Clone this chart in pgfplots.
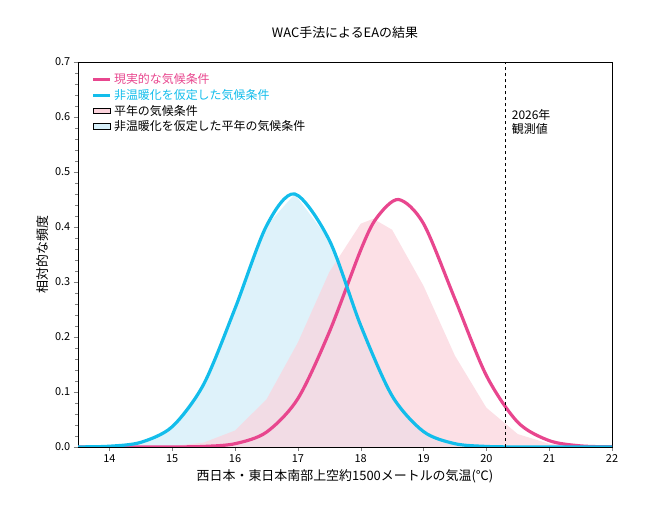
\documentclass[border=0pt]{standalone}
\usepackage{pgfplots}
\pgfplotsset{compat=1.18}
\usepackage{fontspec}
\setmainfont{Noto Sans CJK JP}
\definecolor{pk}{HTML}{E8468E}
\definecolor{bl}{HTML}{13BDEB}
\definecolor{pkf}{HTML}{FBD3DC}
\definecolor{blf}{HTML}{D6EFF9}
\begin{document}
\begin{tikzpicture}
\begin{axis}[
  scale only axis, width=534bp, height=385bp,
  xmin=13.5, xmax=22, ymin=0, ymax=0.7,
  xtick={14,15,...,22}, ytick={0,0.1,...,0.7},
  yticklabel style={/pgf/number format/fixed,/pgf/number format/precision=1,/pgf/number format/fixed zerofill},
  minor y tick num=4, minor x tick num=0,
  tick align=outside, tick pos=left,
  /pgf/number format/assume math mode=true,
  ticklabel style={font=\fontsize{11}{13}\selectfont},
  xlabel={西日本・東日本南部上空約1500メートルの気温(℃)},
  ylabel={相対的な頻度},
  label style={font=\fontsize{13}{15}\selectfont},
  title={WAC手法によるEAの結果},
  title style={font=\fontsize{13}{15}\selectfont, yshift=14bp},
  legend style={at={(0.02,0.98)}, anchor=north west, draw=none, fill=none, font=\fontsize{12}{14}\selectfont},
  legend cell align=left,
]
\addplot[draw=none, fill=blf, fill opacity=0.8, area legend, forget plot] coordinates {(13.5,0.0002)(14,0.0014)(14.5,0.0085)(15,0.037)(15.5,0.114)(16,0.252)(16.5,0.402)(16.95,0.46)(17.5,0.376)(18,0.221)(18.5,0.093)(19,0.028)(19.5,0.006)(20,0.001)(20.5,0.0001)(21,0)(22,0)} \closedcycle;
\addplot[draw=none, fill=pkf, fill opacity=0.7, forget plot] coordinates {(13.5,0)(14,0)(15,0.0016)(15.5,0.008)(16,0.030)(16.5,0.0865)(17,0.190)(17.5,0.318)(18,0.406)(18.2,0.415)(18.5,0.395)(19,0.293)(19.5,0.166)(20,0.0715)(20.5,0.0235)(21,0.0059)(21.5,0.0011)(22,0.0002)} \closedcycle;
\addplot[pk, line width=3.2pt, smooth] coordinates {(13.5,0)(14.5,0)(15,0.0001)(15.5,0.001)(16,0.006)(16.5,0.027)(17,0.088)(17.5,0.209)(18,0.358)(18.25,0.416)(18.6,0.45)(19,0.406)(19.5,0.269)(20,0.130)(20.5,0.045)(21,0.0116)(21.5,0.002)(22,0.0003)};
\addlegendentry{\textcolor{pk}{現実的な気候条件}}
\addplot[bl, line width=3.2pt, smooth] coordinates {(13.5,0.0002)(14,0.0014)(14.5,0.0085)(15,0.037)(15.5,0.114)(16,0.252)(16.5,0.402)(16.95,0.46)(17.5,0.376)(18,0.221)(18.5,0.093)(19,0.028)(19.5,0.006)(20,0.001)(20.5,0.0001)(21,0)(22,0)};
\addlegendentry{\textcolor{bl}{非温暖化を仮定した気候条件}}
\addlegendimage{area legend, draw=none, fill=pkf}
\addlegendentry{平年の気候条件}
\addlegendimage{area legend, draw=none, fill=blf}
\addlegendentry{非温暖化を仮定した平年の気候条件}
\addplot[black, dashed, line width=1.4pt, forget plot] coordinates {(20.3,0)(20.3,0.7)};
\node[anchor=north west, align=left, font=\fontsize{12}{14}\selectfont] at (axis cs:20.35,0.62) {2026年\\観測値};
\end{axis}
\pgfresetboundingbox
\path (current axis.south west)++(-78bp,-66bp) coordinate (a);
\path (current axis.north east)++(48bp,62bp) coordinate (b);
\path[use as bounding box] (a) rectangle (b);
\end{tikzpicture}
\end{document}
